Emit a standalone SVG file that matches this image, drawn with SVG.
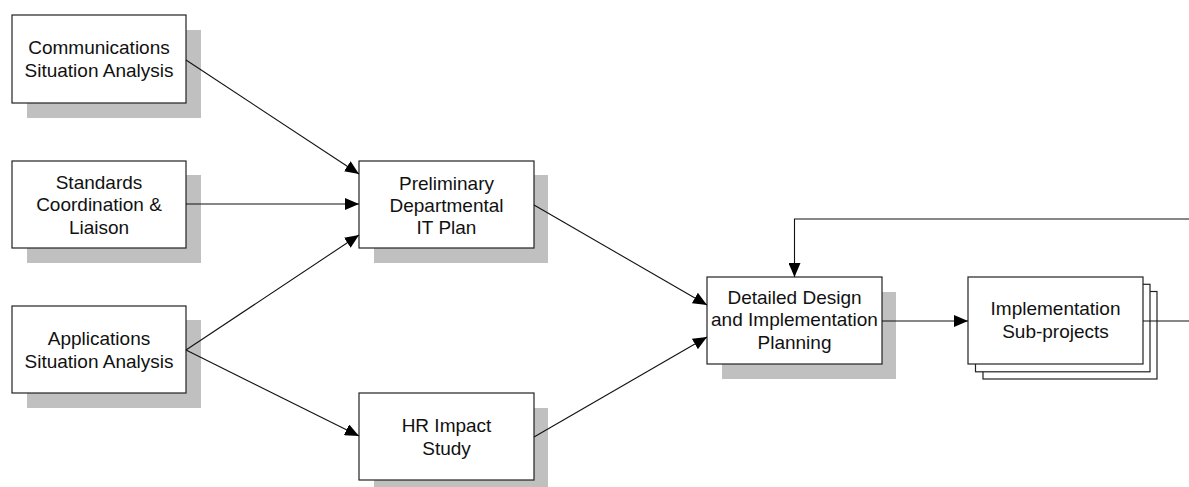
<svg xmlns="http://www.w3.org/2000/svg" width="1189" height="487" viewBox="0 0 1189 487">
  <style>
    .shadow { fill: #c0c0c0; stroke: none; }
    .box { fill: #ffffff; stroke: #222222; stroke-width: 1.2; }
    .label { font-family: "Liberation Sans", Arial, sans-serif; font-size: 19px; fill: #111111; text-anchor: middle; }
    .conn { fill: none; stroke: #111111; stroke-width: 1.1; }
  </style>
  <defs>
    <marker id="arrow" markerUnits="userSpaceOnUse" markerWidth="15" markerHeight="12" refX="14" refY="6" orient="auto">
      <path d="M0,0 L14,6 L0,12 Z" fill="#000000"/>
    </marker>
  </defs>
  <rect width="1189" height="487" fill="#ffffff"/>

  <g id="node-comms">
    <rect class="shadow" x="27" y="30" width="174" height="88"/>
    <rect class="box" x="12" y="15" width="174" height="88"/>
    <text class="label" x="99" y="54">Communications</text>
    <text class="label" x="99" y="77">Situation Analysis</text>
  </g>

  <g id="node-standards">
    <rect class="shadow" x="27" y="175" width="174" height="88"/>
    <rect class="box" x="12" y="161" width="174" height="87"/>
    <text class="label" x="99" y="189">Standards</text>
    <text class="label" x="99" y="211">Coordination &amp;</text>
    <text class="label" x="99" y="234">Liaison</text>
  </g>

  <g id="node-apps">
    <rect class="shadow" x="27" y="320" width="174" height="88"/>
    <rect class="box" x="12" y="306" width="174" height="87"/>
    <text class="label" x="99" y="345">Applications</text>
    <text class="label" x="99" y="368">Situation Analysis</text>
  </g>

  <g id="node-prelim">
    <rect class="shadow" x="374" y="175" width="174" height="88"/>
    <rect class="box" x="359" y="161" width="175" height="87"/>
    <text class="label" x="446.5" y="190">Preliminary</text>
    <text class="label" x="446.5" y="212">Departmental</text>
    <text class="label" x="446.5" y="234">IT Plan</text>
  </g>

  <g id="node-hr">
    <rect class="shadow" x="374" y="408" width="174" height="79"/>
    <rect class="box" x="359" y="393" width="175" height="87"/>
    <text class="label" x="446.5" y="432">HR Impact</text>
    <text class="label" x="446.5" y="455">Study</text>
  </g>

  <g id="node-detailed">
    <rect class="shadow" x="722" y="292" width="174" height="87"/>
    <rect class="box" x="707" y="277" width="175" height="87"/>
    <text class="label" x="794.5" y="304">Detailed Design</text>
    <text class="label" x="794.5" y="326">and Implementation</text>
    <text class="label" x="794.5" y="349">Planning</text>
  </g>

  <g id="node-subprojects">
    <rect class="box" x="983" y="291.5" width="174" height="87.5"/>
    <rect class="box" x="975.5" y="284.3" width="174.5" height="87.5"/>
    <rect class="box" x="968" y="277" width="175" height="87"/>
    <text class="label" x="1055.5" y="315">Implementation</text>
    <text class="label" x="1055.5" y="338">Sub-projects</text>
  </g>

  <g id="connectors">
    <line class="conn" x1="186" y1="60" x2="359" y2="174" marker-end="url(#arrow)"/>
    <line class="conn" x1="186" y1="204" x2="359" y2="204" marker-end="url(#arrow)"/>
    <line class="conn" x1="186" y1="350" x2="359" y2="235" marker-end="url(#arrow)"/>
    <line class="conn" x1="186" y1="350" x2="359" y2="436" marker-end="url(#arrow)"/>
    <line class="conn" x1="534" y1="205" x2="707" y2="305" marker-end="url(#arrow)"/>
    <line class="conn" x1="534" y1="437" x2="707" y2="337" marker-end="url(#arrow)"/>
    <line class="conn" x1="882" y1="321" x2="968" y2="321" marker-end="url(#arrow)"/>
    <line class="conn" x1="1143" y1="321" x2="1189" y2="321"/>
    <polyline class="conn" points="1189,219 794.5,219 794.5,277" marker-end="url(#arrow)"/>
  </g>
</svg>
